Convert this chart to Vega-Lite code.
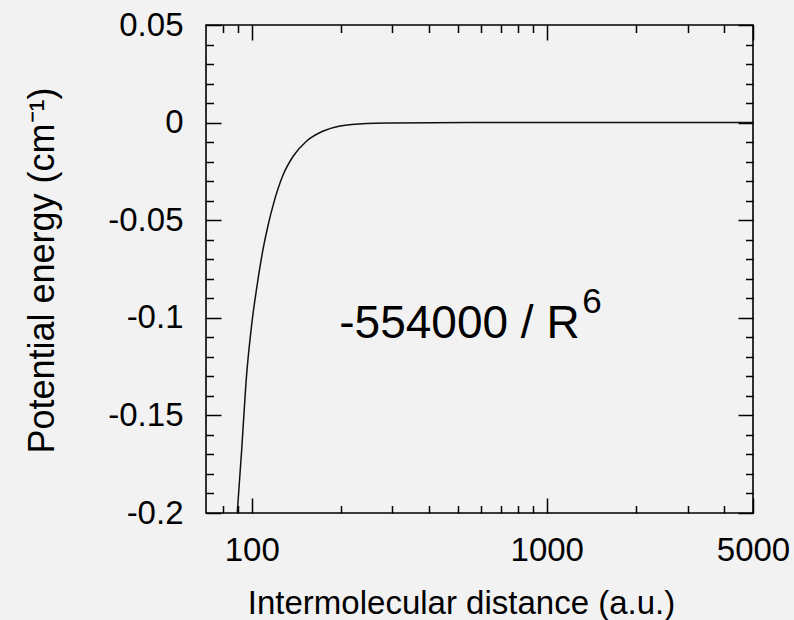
{
  "$schema": "https://vega.github.io/schema/vega-lite/v6.json",
  "width": 547,
  "height": 488,
  "autosize": {"type": "none"},
  "padding": {"left": 206, "top": 25, "right": 41, "bottom": 107},
  "background": "#f2f2f2",
  "config": {
    "font": "Liberation Sans",
    "view": {"stroke": "#000000", "strokeWidth": 1.6},
    "axis": {
      "domain": false,
      "grid": false,
      "tickColor": "#000000",
      "tickWidth": 1.5,
      "labelColor": "#000000",
      "labelFont": "Liberation Sans",
      "labelFontSize": 33,
      "labelFlush": false,
      "labelOverlap": false,
      "labelBound": false,
      "titleColor": "#000000",
      "titleFont": "Liberation Sans",
      "titleFontSize": 33,
      "titleFontWeight": "normal"
    }
  },
  "datasets": {
    "curve": [
      {"R": 88.9, "V": -0.205},
      {"R": 89.4, "V": -0.1992},
      {"R": 92.5, "V": -0.1675},
      {"R": 95.6, "V": -0.1335},
      {"R": 100, "V": -0.1034},
      {"R": 104, "V": -0.0846},
      {"R": 109.5, "V": -0.0641},
      {"R": 113.8, "V": -0.0522},
      {"R": 118.4, "V": -0.0419},
      {"R": 128, "V": -0.0265},
      {"R": 138.4, "V": -0.0171},
      {"R": 153.6, "V": -0.0094},
      {"R": 174.8, "V": -0.0043},
      {"R": 199.2, "V": -0.0017},
      {"R": 245, "V": -0.0004},
      {"R": 300, "V": -0.00015},
      {"R": 400, "V": -0.00003},
      {"R": 600, "V": 0},
      {"R": 1000, "V": 0},
      {"R": 5000, "V": 0}
    ],
    "label": [{"R": 198, "V": -0.1101, "text": "-554000 / R"}],
    "sup": [{"R": 1320, "V": -0.0975, "text": "6"}]
  },
  "layer": [
    {
      "data": {"name": "curve"},
      "mark": {"type": "line", "color": "#111111", "strokeWidth": 1.5, "clip": true, "interpolate": "monotone"},
      "encoding": {
        "x": {
          "field": "R", "type": "quantitative",
          "scale": {"type": "log", "domain": [70, 5000], "nice": false},
          "axis": {
            "orient": "bottom",
            "values": [100, 1000, 5000],
            "tickSize": -15,
            "labelPadding": 36,
            "labelExpr": "'' + datum.value",
            "title": "Intermolecular distance (a.u.)",
            "titleX": 255,
            "titleY": 100,
            "titleBaseline": "alphabetic"
          }
        },
        "y": {
          "field": "V", "type": "quantitative",
          "scale": {"domain": [-0.2, 0.05], "nice": false, "zero": false},
          "axis": {
            "orient": "left",
            "values": [-0.2, -0.15, -0.1, -0.05, 0, 0.05],
            "tickSize": -15,
            "labelPadding": 38,
            "labelExpr": "'' + datum.value",
            "title": "Potential energy (cm⁻¹)",
            "titleFontSize": 36,
            "titleAngle": -90,
            "titleX": -153,
            "titleY": 245,
            "titleBaseline": "alphabetic"
          }
        }
      }
    },
    {
      "data": {"name": "curve"},
      "mark": {"type": "line", "opacity": 0},
      "encoding": {
        "x": {
          "field": "R", "type": "quantitative",
          "axis": {"orient": "bottom", "values": [80, 90, 200, 300, 400, 500, 600, 700, 800, 900, 2000, 3000, 4000], "tickSize": -7.5, "labels": false, "title": null}
        },
        "y": {
          "field": "V", "type": "quantitative",
          "axis": {"orient": "left", "values": [-0.19, -0.18, -0.17, -0.16, -0.14, -0.13, -0.12, -0.11, -0.09, -0.08, -0.07, -0.06, -0.04, -0.03, -0.02, -0.01, 0.01, 0.02, 0.03, 0.04], "tickSize": -7.5, "labels": false, "title": null}
        }
      }
    },
    {
      "data": {"name": "curve"},
      "mark": {"type": "line", "opacity": 0},
      "encoding": {
        "x": {
          "field": "R", "type": "quantitative",
          "axis": {"orient": "top", "values": [100, 1000, 5000], "tickSize": -15, "labels": false, "title": null}
        },
        "y": {
          "field": "V", "type": "quantitative",
          "axis": {"orient": "right", "values": [-0.2, -0.15, -0.1, -0.05, 0, 0.05], "tickSize": -15, "labels": false, "title": null}
        }
      }
    },
    {
      "data": {"name": "curve"},
      "mark": {"type": "line", "opacity": 0},
      "encoding": {
        "x": {
          "field": "R", "type": "quantitative",
          "axis": {"orient": "top", "values": [80, 90, 200, 300, 400, 500, 600, 700, 800, 900, 2000, 3000, 4000], "tickSize": -7.5, "labels": false, "title": null}
        },
        "y": {
          "field": "V", "type": "quantitative",
          "axis": {"orient": "right", "values": [-0.19, -0.18, -0.17, -0.16, -0.14, -0.13, -0.12, -0.11, -0.09, -0.08, -0.07, -0.06, -0.04, -0.03, -0.02, -0.01, 0.01, 0.02, 0.03, 0.04], "tickSize": -7.5, "labels": false, "title": null}
        }
      }
    },
    {
      "data": {"name": "label"},
      "mark": {"type": "text", "align": "left", "baseline": "alphabetic", "fontSize": 46, "font": "Liberation Sans", "color": "#000000"},
      "encoding": {
        "x": {"field": "R", "type": "quantitative", "axis": null},
        "y": {"field": "V", "type": "quantitative", "axis": null},
        "text": {"field": "text"}
      }
    },
    {
      "data": {"name": "sup"},
      "mark": {"type": "text", "align": "left", "baseline": "alphabetic", "fontSize": 35, "font": "Liberation Sans", "color": "#000000"},
      "encoding": {
        "x": {"field": "R", "type": "quantitative", "axis": null},
        "y": {"field": "V", "type": "quantitative", "axis": null},
        "text": {"field": "text"}
      }
    }
  ],
  "resolve": {"axis": {"x": "independent", "y": "independent"}}
}
